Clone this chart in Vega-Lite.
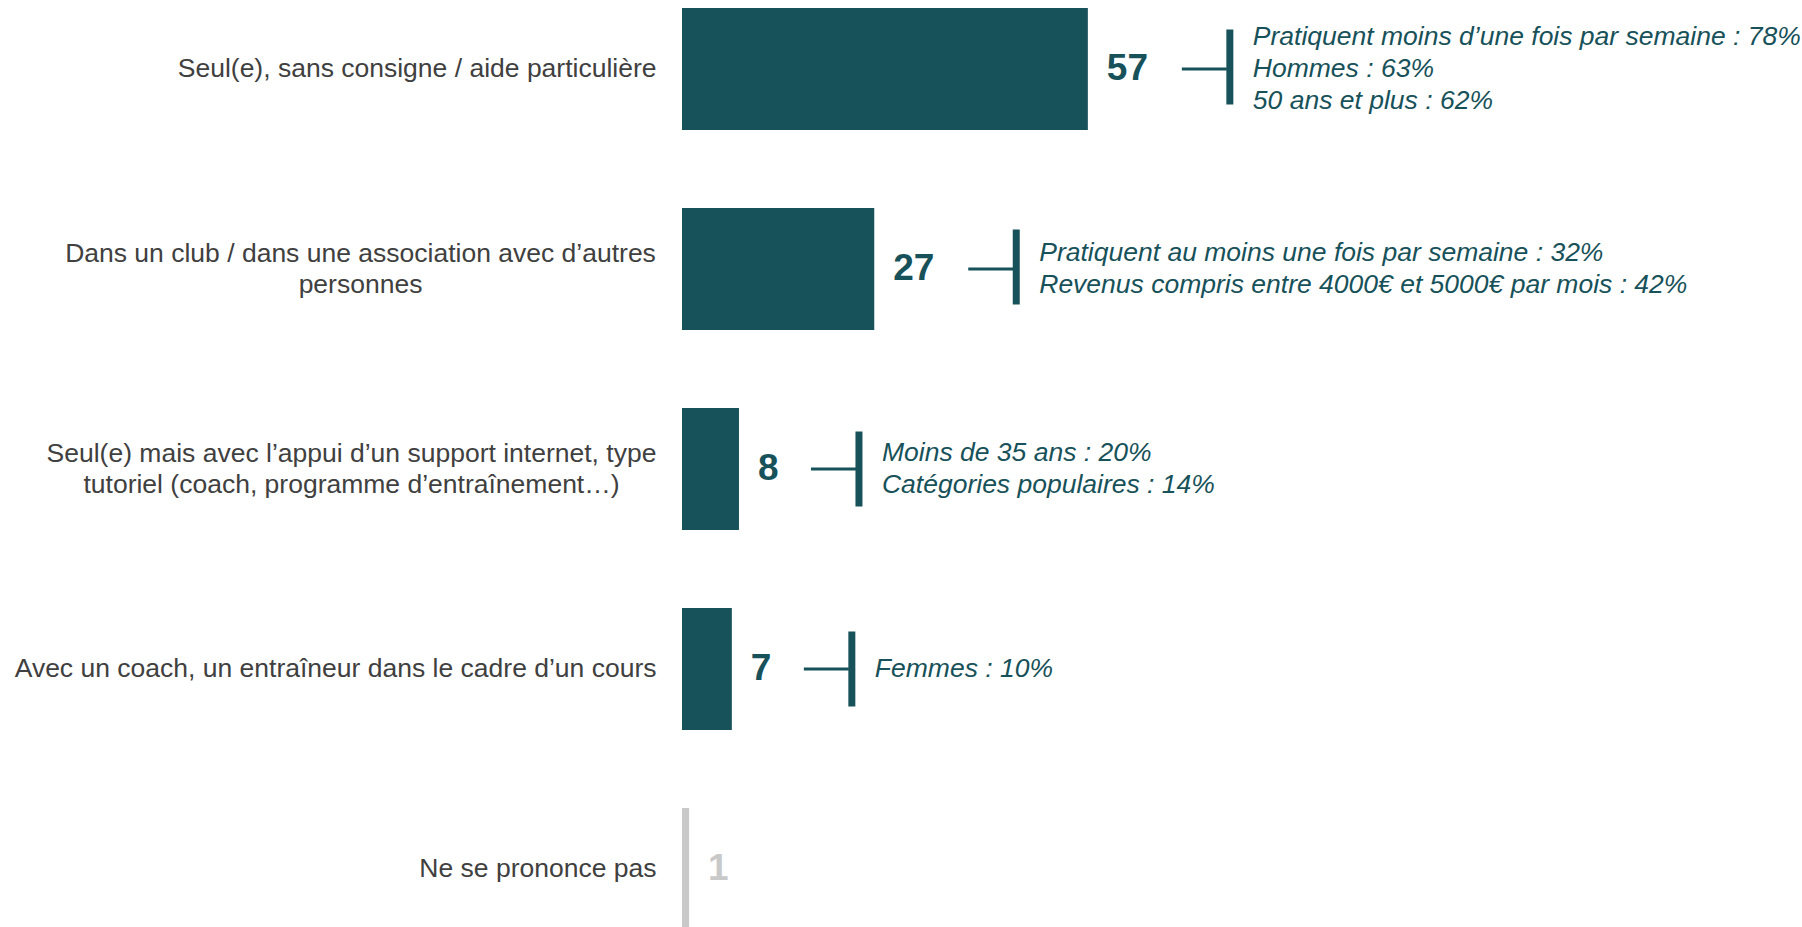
{
  "$schema": "https://vega.github.io/schema/vega-lite/v6.json",
  "width": 1120,
  "height": 927,
  "autosize": {"type": "none"},
  "padding": {"left": 682, "top": 0, "right": 0, "bottom": 0},
  "background": "white",
  "config": {"view": {"stroke": null}, "font": "Liberation Sans"},
  "data": {
    "values": [
      {"reponse": "Seul(e), sans consigne / aide particulière", "valeur": 57, "annotation": "Pratiquent moins d’une fois par semaine : 78%\nHommes : 63%\n50 ans et plus : 62%"},
      {"reponse": "Dans un club / dans une association avec d’autres\npersonnes", "valeur": 27, "annotation": "Pratiquent au moins une fois par semaine : 32%\nRevenus compris entre 4000€ et 5000€ par mois : 42%"},
      {"reponse": "Seul(e) mais avec l’appui d’un support internet, type\ntutoriel (coach, programme d’entraînement…)", "valeur": 8, "annotation": "Moins de 35 ans : 20%\nCatégories populaires : 14%"},
      {"reponse": "Avec un coach, un entraîneur dans le cadre d’un cours", "valeur": 7, "annotation": "Femmes : 10%"},
      {"reponse": "Ne se prononce pas", "valeur": 1, "annotation": null}
    ]
  },
  "encoding": {
    "y": {
      "field": "reponse",
      "type": "nominal",
      "sort": null,
      "scale": {"range": [8, 930], "paddingInner": 0.39, "paddingOuter": 0},
      "axis": {
        "title": null,
        "domain": false,
        "ticks": false,
        "grid": false,
        "labelFont": "Liberation Sans",
        "labelFontSize": 26.5,
        "labelColor": "#404040",
        "labelLimit": 2000,
        "labelOverlap": false,
        "labelLineHeight": 31,
        "labelBaseline": "middle",
        "labelExpr": "split(datum.label, '\\n')",
        "labelAlign": {"condition": {"test": "indexof(datum.value, 'Dans un club') == 0 || indexof(datum.value, 'Seul(e) mais') == 0", "value": "center"}, "value": "right"},
        "labelOffset": {"condition": {"test": "indexof(datum.value, 'Dans un club') == 0 || indexof(datum.value, 'Seul(e) mais') == 0", "value": -15}, "value": 0},
        "labelPadding": {"condition": [{"test": "indexof(datum.value, 'Dans un club') == 0", "value": 322}, {"test": "indexof(datum.value, 'Seul(e) mais') == 0", "value": 331}], "value": 26}
      }
    },
    "x": {"field": "valeur", "type": "quantitative", "scale": {"domain": [0, 157.3], "nice": false}, "axis": null}
  },
  "layer": [
    {
      "mark": {"type": "bar"},
      "encoding": {
        "color": {"condition": {"test": "datum.reponse === 'Ne se prononce pas'", "value": "#c9c9c9"}, "value": "#175159"}
      }
    },
    {
      "mark": {"type": "text", "align": "left", "baseline": "middle", "dx": 19, "fontSize": 37, "fontWeight": "bold", "font": "Liberation Sans"},
      "encoding": {
        "text": {"field": "valeur", "type": "quantitative"},
        "color": {"condition": {"test": "datum.reponse === 'Ne se prononce pas'", "value": "#c9c9c9"}, "value": "#175159"}
      }
    },
    {
      "transform": [{"filter": "datum.annotation != null && datum.valeur >= 10"}],
      "layer": [
        {
          "mark": {"type": "rule", "xOffset": 94, "x2Offset": 139, "strokeWidth": 3, "color": "#175159"},
          "encoding": {"x2": {"field": "valeur"}}
        },
        {
          "mark": {"type": "tick", "orient": "vertical", "xOffset": 142, "yOffset": -2, "thickness": 7, "size": 75, "color": "#175159", "opacity": 1},
          "encoding": {}
        },
        {
          "mark": {"type": "text", "align": "left", "baseline": "middle", "dx": 165, "dy": {"expr": "-(length(split(datum.annotation, '\\n')) - 1) * 16"}, "fontSize": 26.5, "fontStyle": "italic", "lineHeight": 32, "lineBreak": "\n", "color": "#175159", "font": "Liberation Sans"},
          "encoding": {"text": {"field": "annotation", "type": "nominal"}}
        }
      ]
    },
    {
      "transform": [{"filter": "datum.annotation != null && datum.valeur < 10"}],
      "layer": [
        {
          "mark": {"type": "rule", "xOffset": 72, "x2Offset": 117, "strokeWidth": 3, "color": "#175159"},
          "encoding": {"x2": {"field": "valeur"}}
        },
        {
          "mark": {"type": "tick", "orient": "vertical", "xOffset": 120, "thickness": 7, "size": 75, "color": "#175159", "opacity": 1},
          "encoding": {}
        },
        {
          "mark": {"type": "text", "align": "left", "baseline": "middle", "dx": 143, "dy": {"expr": "-(length(split(datum.annotation, '\\n')) - 1) * 16"}, "fontSize": 26.5, "fontStyle": "italic", "lineHeight": 32, "lineBreak": "\n", "color": "#175159", "font": "Liberation Sans"},
          "encoding": {"text": {"field": "annotation", "type": "nominal"}}
        }
      ]
    }
  ]
}
